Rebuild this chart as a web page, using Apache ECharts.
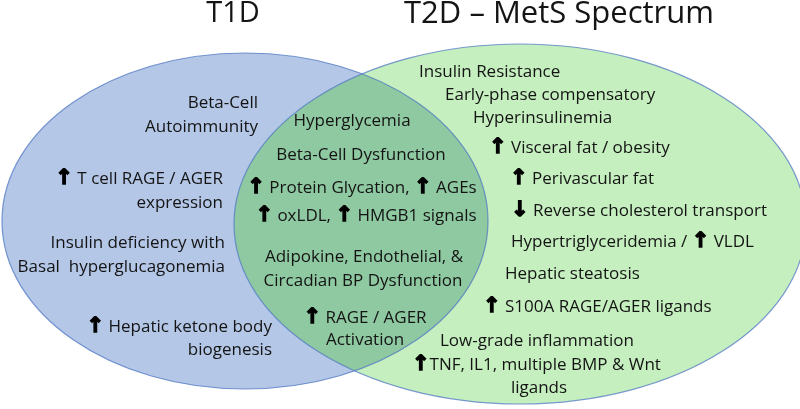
<!DOCTYPE html>
<html>
<head>
<meta charset="utf-8">
<script src="https://cdn.jsdelivr.net/npm/echarts@6/dist/echarts.min.js"></script>
<style>
html,body{margin:0;padding:0;background:#ffffff;}
#chart{width:800px;height:409px;}
</style>
</head>
<body>
<div id="chart"></div>
<script>
// ---- data ----
const setNames = ['T1D', 'T2D – MetS Spectrum'];
// ellipse geometry of each set in chart units: [cx, cy, rx, ry]
const setShapes = [[245, 221, 243, 168], [520, 224, 286, 180]];
const titleAnchors = [[233, 14], [559, 14]];

const t1dLabels = ['Beta-Cell', 'Autoimmunity', '{up|↑} T cell RAGE / AGER', 'expression',
  'Insulin deficiency with', 'Basal  hyperglucagonemia', '{up|↑} Hepatic ketone body', 'biogenesis'];
const t1dAnchors = [[258, 103], [258, 127], [223, 179], [223, 203], [225, 243], [225, 267], [272, 327], [272, 350]];

const sharedLabels = ['Hyperglycemia', 'Beta-Cell Dysfunction', '{up|↑} Protein Glycation, {up|↑} AGEs',
  '{up|↑} oxLDL, {up|↑} HMGB1 signals', 'Adipokine, Endothelial, &', 'Circadian BP Dysfunction',
  '{up|↑} RAGE / AGER', 'Activation'];
const sharedAnchors = [[352, 121], [361, 155], [362, 188], [366, 216], [364, 257], [363, 281], [365, 318], [365, 340]];

const t2dLabels = ['Insulin Resistance', 'Early-phase compensatory', 'Hyperinsulinemia',
  '{up|↑} Visceral fat / obesity', '{up|↑} Perivascular fat', '{up|↓} Reverse cholesterol transport',
  'Hypertriglyceridemia / {up|↑} VLDL', 'Hepatic steatosis', '{up|↑} S100A RAGE/AGER ligands',
  'Low-grade inflammation', '{up|↑}TNF, IL1, multiple BMP & Wnt', 'ligands'];
const t2dAnchors = [[419, 72], [445, 95], [473, 118], [489, 148], [510, 179], [511, 211], [511, 242],
  [505, 274], [483, 307], [440, 341], [412, 365], [539, 388]];

// ---- styles ----
const setFills = ['#b4c7e7', '#c5efbf'];
const overlapFill = '#8fc9a1';
const outline = 'rgba(80,120,195,0.75)';
const FONT = '"Open Sans", "Noto Sans", sans-serif';
const textColor = '#141414';
const rich = { up: { fontFamily: '"DejaVu Sans", sans-serif', fontWeight: 'bold', fontSize: 21,
  fill: '#000', stroke: '#000', lineWidth: 1.4, lineHeight: 20 } };

// build label table
const labelRows = [];
t1dLabels.forEach((t, i) => labelRows.push([t1dAnchors[i][0], t1dAnchors[i][1], t, 'right', 17]));
sharedLabels.forEach((t, i) => labelRows.push([sharedAnchors[i][0], sharedAnchors[i][1], t, 'center', 17]));
t2dLabels.forEach((t, i) => labelRows.push([t2dAnchors[i][0], t2dAnchors[i][1], t, i === t2dLabels.length - 1 ? 'center' : 'left', 17]));
setNames.forEach((t, i) => labelRows.push([titleAnchors[i][0], titleAnchors[i][1], t, 'center', i === 0 ? 29 : 31]));

function ellipsePoints(api, s, n) {
  const c = api.coord([s[0], s[1]]);
  const sz = api.size([s[2], s[3]]);
  const pts = [];
  for (let k = 0; k < n; k++) {
    const a = 2 * Math.PI * k / n;
    pts.push([c[0] + sz[0] * Math.cos(a), c[1] + sz[1] * Math.sin(a)]);
  }
  return { pts, c, sz };
}
function inside(p, e) {
  const dx = (p[0] - e.c[0]) / e.sz[0], dy = (p[1] - e.c[1]) / e.sz[1];
  return dx * dx + dy * dy <= 1.0000001;
}

const chart = echarts.init(document.getElementById('chart'), null, { renderer: 'canvas' });
chart.setOption({
  animation: false,
  backgroundColor: '#ffffff',
  grid: { left: 0, right: 0, top: 0, bottom: 0 },
  xAxis: { type: 'value', min: 0, max: 800, show: false },
  yAxis: { type: 'value', min: 0, max: 409, inverse: true, show: false },
  series: [
    {
      type: 'custom', z: 1, silent: true,
      data: setShapes.map((s, i) => [s[0], s[1], s[2], s[3], i]),
      renderItem: function (params, api) {
        const i = api.value(4);
        const c = api.coord([api.value(0), api.value(1)]);
        const sz = api.size([api.value(2), api.value(3)]);
        return { type: 'ellipse', shape: { cx: c[0], cy: c[1], rx: sz[0], ry: sz[1] },
          style: { fill: setFills[i], stroke: null } };
      }
    },
    {
      type: 'custom', z: 2, silent: true,
      data: [[0]],
      renderItem: function (params, api) {
        const A = ellipsePoints(api, setShapes[0], 720);
        const B = ellipsePoints(api, setShapes[1], 720);
        let pts = A.pts.filter(p => inside(p, B)).concat(B.pts.filter(p => inside(p, A)));
        const cx = pts.reduce((s, p) => s + p[0], 0) / pts.length;
        const cy = pts.reduce((s, p) => s + p[1], 0) / pts.length;
        pts.sort((p, q) => Math.atan2(p[1] - cy, p[0] - cx) - Math.atan2(q[1] - cy, q[0] - cx));
        return { type: 'polygon', shape: { points: pts }, style: { fill: overlapFill, stroke: null } };
      }
    },
    {
      type: 'custom', z: 3, silent: true,
      data: setShapes.map((s, i) => [s[0], s[1], s[2], s[3], i]),
      renderItem: function (params, api) {
        const c = api.coord([api.value(0), api.value(1)]);
        const sz = api.size([api.value(2), api.value(3)]);
        return { type: 'ellipse', shape: { cx: c[0], cy: c[1], rx: sz[0], ry: sz[1] },
          style: { fill: null, stroke: outline, lineWidth: 1.2 } };
      }
    },
    {
      type: 'custom', z: 4, silent: true,
      data: labelRows.map((r, i) => [r[0], r[1], i]),
      renderItem: function (params, api) {
        const row = labelRows[api.value(2)];
        const p = api.coord([row[0], row[1]]);
        return { type: 'text', x: p[0], y: p[1],
          style: { text: row[2], fill: textColor, fontFamily: FONT, fontSize: row[4],
            align: row[3], verticalAlign: 'middle', rich: rich } };
      }
    }
  ]
});
</script>
</body>
</html>
